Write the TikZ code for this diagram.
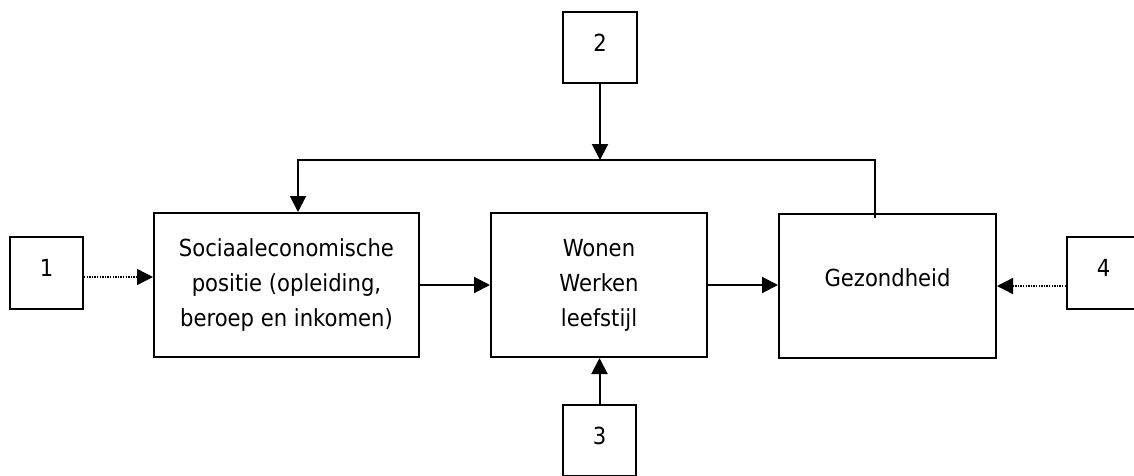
\documentclass[tikz,border=0pt]{standalone}
\usepackage{fontspec}
\setmainfont{DejaVu Sans Condensed}
\usetikzlibrary{arrows.meta}
\begin{document}
\begin{tikzpicture}[x=1pt,y=-1pt,
  box/.style={draw,line width=2pt,inner sep=0pt,align=center,font=\fontsize{23.5}{35}\selectfont},
  numbox/.style={box,minimum width=73pt,minimum height=72pt,text depth=10pt},
  arr/.style={line width=2pt,-{Triangle[length=16pt,width=16pt]}},
  dotarr/.style={line width=1.4pt,dash pattern=on 1.4pt off 1.2pt,-{Triangle[length=16pt,width=16pt]}}]
\useasboundingbox (0,0) rectangle (1134,475);
\node[numbox] (b1) at (46.5,273) {1};
\node[box,minimum width=265pt,minimum height=144pt] (soc) at (286.5,285) {Sociaaleconomische\\positie (opleiding,\\beroep en inkomen)};
\node[box,minimum width=216pt,minimum height=144pt] (won) at (599,285) {Wonen\\Werken\\leefstijl};
\node[box,minimum width=217pt,minimum height=144pt,text depth=16pt] (gez) at (887.5,286) {Gezondheid};
\node[numbox,minimum width=74pt,minimum height=71pt] (b2) at (600,47.5) {2};
\node[numbox,minimum height=71pt] (b3) at (599.5,440.5) {3};
\node[numbox] (b4) at (1103.5,273) {4};
\coordinate (fbL) at (298,160);
\coordinate (fbR) at (875,160);
\draw[arr] ([yshift=-5pt]fbR |- gez.north) -- (fbR) -- (fbL) -- (fbL |- soc.north);
\draw[arr] (b2.south) -- (b2.south |- fbL);
\draw[arr] (b3.north) -- (b3.north |- won.south);
\draw[arr] (soc.east) -- (won.west);
\draw[arr] (won.east) -- (won.east -| gez.west);
\draw[dotarr] ([yshift=-4pt]b1.east) -- ([yshift=-4pt]b1.east -| soc.west);
\draw[dotarr] (b4.west |- gez.east) -- (gez.east);
\end{tikzpicture}
\end{document}
